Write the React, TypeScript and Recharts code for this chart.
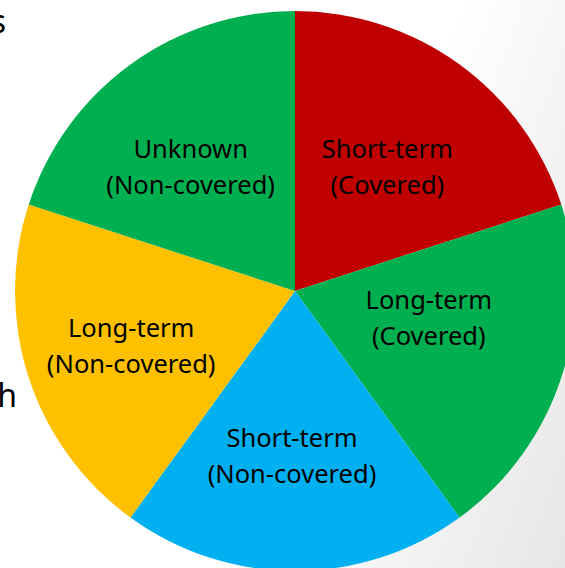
import { PieChart, Pie, Cell } from 'recharts';

const categories = ['Short-term', 'Long-term', 'Short-term', 'Long-term', 'Unknown'];
const coverage = ['(Covered)', '(Covered)', '(Non-covered)', '(Non-covered)', '(Non-covered)'];
const shares = [20, 20, 20, 20, 20];

const colors = ['#C00000', '#00B050', '#00B0F0', '#FFC000', '#00B050'];
// small hand nudges so labels sit where the slide had them
const labelNudge = [
  [1, 1],
  [-14, -22],
  [-3, 9],
  [-16, 6],
  [-13, 1],
];

const data = categories.map((c, i) => ({ name: c, sub: coverage[i], value: shares[i] }));

const RAD = Math.PI / 180;

const renderLabel = (props: any) => {
  const { cx, cy, midAngle, outerRadius, index, payload } = props;
  const r = outerRadius * 0.555;
  const x = cx + r * Math.cos(-midAngle * RAD) + labelNudge[index][0];
  const y = cy + r * Math.sin(-midAngle * RAD) + labelNudge[index][1];
  return (
    <text
      x={x}
      y={y}
      textAnchor="middle"
      fill="#000"
      fontSize={25.5}
      fontFamily="'Noto Sans', sans-serif"
    >
      <tspan x={x} y={y - 18} dominantBaseline="central">{payload.name}</tspan>
      <tspan x={x} y={y + 18} dominantBaseline="central">{payload.sub}</tspan>
    </text>
  );
};

export default function App() {
  return (
    <div
      style={{
        position: 'fixed',
        left: 0,
        top: 0,
        width: 565,
        height: 568,
        overflow: 'hidden',
        background: 'linear-gradient(110deg, #ffffff 60%, #e6e6e6 100%)',
      }}
    >
      <svg width={565} height={568} style={{ position: 'absolute', left: 0, top: 0 }}>
        <text x={6} y={33} textAnchor="end" fontSize={32} fontFamily="'Noto Sans', sans-serif" fill="#000">
          claims
        </text>
        <text x={17} y={407} textAnchor="end" fontSize={32} fontFamily="'Noto Sans', sans-serif" fill="#000">
          with
        </text>
      </svg>
      <div style={{ position: 'absolute', left: 0, top: 0 }}>
        <PieChart width={565} height={568} margin={{ top: 0, right: 0, bottom: 0, left: 0 }}>
          <Pie
            data={data}
            dataKey="value"
            cx={295}
            cy={291}
            outerRadius={280}
            startAngle={90}
            endAngle={-270}
            stroke="none"
            label={renderLabel}
            labelLine={false}
            isAnimationActive={false}
          >
            {data.map((_, i) => (
              <Cell key={i} fill={colors[i]} />
            ))}
          </Pie>
        </PieChart>
      </div>
    </div>
  );
}
